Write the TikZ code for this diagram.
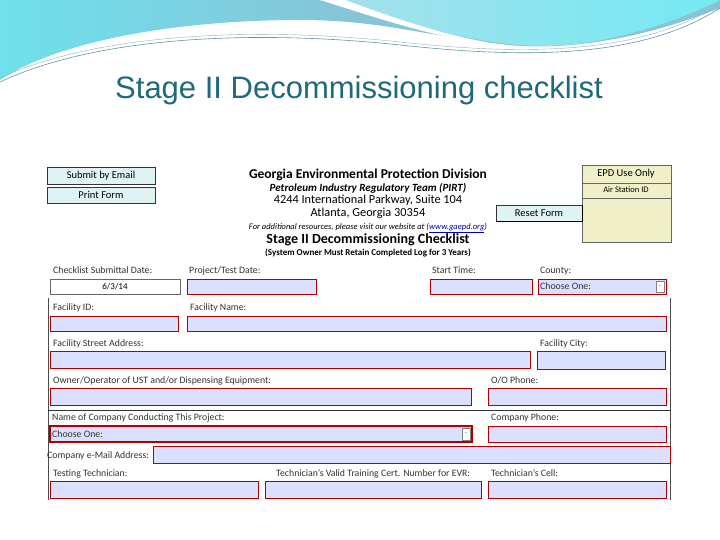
\documentclass[tikz,border=0pt]{standalone}
\usepackage{fontspec}
\setmainfont{Carlito}
\newfontfamily\arialf{Liberation Sans}
\begin{document}
\begin{tikzpicture}[x=1pt,y=-1pt,
  fld/.style={draw=red!70!black,fill=fieldblue,line width=0.9pt},
  lbl/.style={anchor=base west,yshift=-3.3pt,font=\fontsize{9.8}{10}\selectfont,inner sep=0pt,text=black!80},
  btn/.style={draw=black!80,fill=btncyan,line width=0.8pt,font=\fontsize{10.5}{11}\selectfont},
  hd/.style={font=\fontsize{8}{9}\selectfont,inner sep=0pt}]
\definecolor{fieldblue}{HTML}{DCE0FF}
\definecolor{btncyan}{HTML}{DFF3F5}
\definecolor{beige}{HTML}{F0F0C8}
\definecolor{swA}{HTML}{86C4D6}
\definecolor{swB}{HTML}{6FE0EC}
\definecolor{swC}{HTML}{A6E0EC}
\definecolor{titlec}{HTML}{1E6A78}
\useasboundingbox (0,0) rectangle (720,540);
\fill[white] (0,0) rectangle (720,540);
% header swoosh
\shade[left color=swB,right color=swA,middle color=swA] (0,0) -- (720,0) -- (720,8) .. controls (640,40) and (560,52) .. (500,44) .. controls (420,35) and (380,20) .. (300,20) .. controls (180,20) and (60,40) .. (0,80) -- cycle;
\shade[left color=swC,right color=swC!70!cyan] (330,0) .. controls (400,20) and (470,45) .. (540,46) .. controls (610,46) and (680,20) .. (720,0) -- cycle;
\fill[white] (320,0) .. controls (390,22) and (460,46) .. (530,48) .. controls (460,42) and (400,20) .. (345,0) -- cycle;
\draw[titlec!70,line width=0.6pt] (0,82) .. controls (100,35) and (260,30) .. (400,45) .. controls (520,58) and (640,60) .. (720,8);
\draw[titlec!50,line width=0.4pt] (0,78) .. controls (100,32) and (260,27) .. (400,42) .. controls (520,55) and (640,56) .. (720,4);
\node[font=\arialf\fontsize{31}{33}\selectfont,text=titlec] (title) at (359,90) {Stage II Decommissioning checklist};
% form panel borders
\draw[black!70,line width=0.6pt] (48,298) -- (48,500);
\draw[black!70,line width=0.6pt] (670,298) -- (670,500);
\draw[black!80,line width=0.8pt] (48,410) -- (670,410);
% buttons
\node[btn,minimum width=108pt,minimum height=17pt] (email) at (101,175.5) {Submit by Email};
\node[btn,minimum width=108pt,minimum height=16pt] (print) at (101,195) {Print Form};
% EPD box
\draw[black!60,fill=beige] (582,165) rectangle (671,242);
\draw[black!60] (582,183) -- (671,183);
\draw[black!60] (582,198) -- (671,198);
\node[hd,font=\fontsize{10.5}{11}\selectfont] (epd) at (626,174) {EPD Use Only};
\node[hd,font=\fontsize{8.5}{9}\selectfont] (air) at (626,190) {Air Station ID};
\node[btn,minimum width=86pt,minimum height=16pt] (reset) at (539,213) {Reset Form};
\draw[black,line width=1.5pt] (496,221.5) -- (582.5,221.5) -- (582.5,205);
% header text
\node[hd,font=\bfseries\fontsize{13.5}{14}\selectfont] (h1) at (368,175) {Georgia Environmental Protection Division};
\node[hd,font=\bfseries\itshape\fontsize{11}{12}\selectfont] (h2) at (368,188) {Petroleum Industry Regulatory Team (PIRT)};
\node[hd,font=\fontsize{12.3}{13}\selectfont] (h3) at (368,200.5) {4244 International Parkway, Suite 104};
\node[hd,font=\fontsize{12.3}{13}\selectfont] (h4) at (368,213) {Atlanta, Georgia 30354};
\node[hd,font=\itshape\fontsize{8.5}{9}\selectfont] (h5) at (368,228) {For additional resources, please visit our website at (\textcolor{blue!70!black}{\underline{www.gaepd.org}})};
\node[hd,font=\bfseries\fontsize{14}{15}\selectfont] (h6) at (368,240) {Stage II Decommissioning Checklist};
\node[hd,font=\bfseries\fontsize{9}{10}\selectfont] (h7) at (368,253) {(System Owner Must Retain Completed Log for 3 Years)};
% row 1
\node[lbl] (l1) at (53,270) {Checklist Submittal Date:};
\node[lbl] (l2) at (189,270) {Project/Test Date:};
\node[lbl] (l3) at (432,270) {Start Time:};
\node[lbl] (l4) at (540,270) {County:};
\draw[black!60,fill=white] (50,279) rectangle (180,294);
\node[hd,font=\fontsize{9}{9}\selectfont] (date) at (115,286.5) {6/3/14};
\draw[fld] (187,279) rectangle (316,294);
\draw[fld] (430,279) rectangle (532,294);
\draw[fld] (538,279) rectangle (666,294);
\node[lbl] (c1) at (540,286.5) {Choose One:};
\draw[black!50,fill=white] (656,281) rectangle (664,292);
\node[hd,font=\fontsize{6}{6}\selectfont] (d1) at (660,286.5) {-};
% row 2
\node[lbl] (l5) at (53,307) {Facility ID:};
\node[lbl] (l6) at (190,307) {Facility Name:};
\draw[fld] (50,316) rectangle (178,331);
\draw[fld] (187,316) rectangle (666,331);
% row 3
\node[lbl] (l7) at (53,343) {Facility Street Address:};
\node[lbl] (l8) at (540,343) {Facility City:};
\draw[fld] (50,351) rectangle (530,368);
\draw[fld] (537,351) rectangle (665,369);
% row 4
\node[lbl] (l9) at (53,380) {Owner/Operator of UST and/or Dispensing Equipment:};
\node[lbl] (l10) at (491,380) {O/O Phone:};
\draw[fld] (50,388) rectangle (471,405);
\draw[fld] (488,388) rectangle (666,405);
% row 5
\node[lbl] (l11) at (52,417) {Name of Company Conducting This Project:};
\node[lbl] (l12) at (491,417) {Company Phone:};
\draw[fld,line width=1.3pt] (50,426) rectangle (472,442);
\node[lbl] (c2) at (52,434) {Choose One:};
\draw[black!50,fill=white] (462,428) rectangle (470,440);
\node[hd,font=\fontsize{6}{6}\selectfont] (d2) at (466,434) {-};
\draw[fld] (488,426) rectangle (666,442);
% row 6
\node[lbl] (l13) at (47,455) {Company e-Mail Address:};
\draw[fld] (153,446) rectangle (670,463);
% row 7
\node[lbl] (l14) at (53,473) {Testing Technician:};
\node[lbl] (l15) at (276,473) {Technician's Valid Training Cert. Number for EVR:};
\node[lbl] (l16) at (491,473) {Technician's Cell:};
\draw[fld] (50,481) rectangle (258,498);
\draw[fld] (265,481) rectangle (481,498);
\draw[fld] (488,481) rectangle (666,498);
\end{tikzpicture}
\end{document}
